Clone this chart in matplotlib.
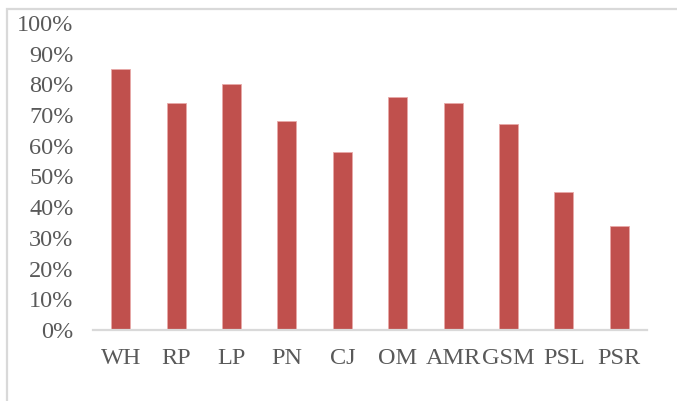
import matplotlib
matplotlib.use("Agg")
import matplotlib.pyplot as plt
from matplotlib.patches import Rectangle
from matplotlib.ticker import PercentFormatter, MultipleLocator

categories = ["WH", "RP", "LP", "PN", "CJ", "OM", "AMR", "GSM", "PSL", "PSR"]
values = [0.85, 0.74, 0.80, 0.68, 0.58, 0.76, 0.74, 0.67, 0.45, 0.34]

W, H = 677, 401
fig = plt.figure(figsize=(W / 100, H / 100), dpi=100)
plt.rcParams["font.family"] = ["Liberation Serif", "DejaVu Serif"]

# outer chart frame (runs off the right and bottom edges)
fig.patches.append(Rectangle((7 / W, -0.05), 1.2, (H - 9) / H + 0.05,
                             transform=fig.transFigure, fill=False,
                             edgecolor="#D9D9D9", linewidth=1.6))

ax = fig.add_axes([93 / W, (H - 330) / H, (647 - 93) / W, (330 - 23) / H])
x = range(len(categories))
ax.bar(x, values, width=0.34, color="#C0504D", edgecolor="#E8A9A8", linewidth=0.6)

ax.set_xlim(-0.5, len(categories) - 0.5)
ax.set_ylim(0, 1.0)
ax.yaxis.set_major_locator(MultipleLocator(0.1))
ax.yaxis.set_major_formatter(PercentFormatter(1.0, decimals=0))
ax.set_xticks(list(x))
ax.set_xticklabels(categories)

for s in ["top", "right", "left"]:
    ax.spines[s].set_visible(False)
ax.spines["bottom"].set_color("#D9D9D9")
ax.spines["bottom"].set_linewidth(1.6)
ax.tick_params(axis="both", length=0, labelsize=17.5, colors="#595959")
ax.tick_params(axis="x", pad=13)
ax.tick_params(axis="y", pad=14)

fig.savefig("out.png", dpi=100)
